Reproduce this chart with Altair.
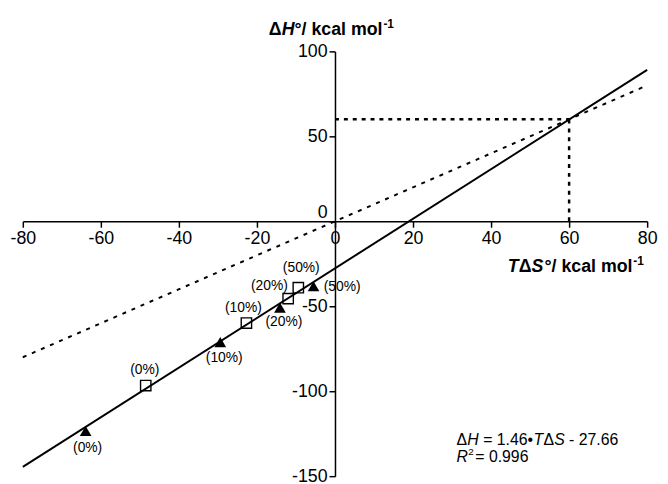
import altair as alt
import pandas as pd

# ---- data ----
sq_tds = [-48.5, -22.7, -12.0, -9.4]
sq_dh = [-96.7, -59.9, -45.5, -39.1]
sq_lab = ["(0%)", "(10%)", "(20%)", "(50%)"]

tri_tds = [-63.9, -29.4, -14.1, -5.5]
tri_dh = [-123.4, -71.1, -50.8, -38.2]
tri_lab = ["(0%)", "(10%)", "(20%)", "(50%)"]

fit_tds = [-80, 80]
fit_dh = [-144.5, 89.1]

iso_tds = [-80, 80]
iso_dh = [-80, 80]

guide_h_tds = [0, 60]
guide_h_dh = [60, 60]
guide_v_tds = [60, 60]
guide_v_dh = [0, 60]

x_ticks = [-80, -60, -40, -20, 0, 20, 40, 60, 80]
y_ticks = [-150, -100, -50, 0, 50, 100]

FONT = "Liberation Sans"
W, H = 632, 430

sq = pd.DataFrame({"x": sq_tds, "y": sq_dh, "label": sq_lab})
tri = pd.DataFrame({"x": tri_tds, "y": tri_dh, "label": tri_lab})
fit = pd.DataFrame({"x": fit_tds, "y": fit_dh})
iso = pd.DataFrame({"x": iso_tds, "y": iso_dh})
gh = pd.DataFrame({"x": guide_h_tds, "y": guide_h_dh})
gv = pd.DataFrame({"x": guide_v_tds, "y": guide_v_dh})

xscale = alt.Scale(domain=[-80, 80], nice=False, zero=False)
yscale = alt.Scale(domain=[-150, 100], nice=False, zero=False)

common_axis = dict(
    title=None, grid=False,
    domainColor="black", domainWidth=1.5, tickColor="black", tickWidth=1.5,
    tickSize=6, labelFont=FONT, labelFontSize=18, labelColor="black",
    labelPadding=2, labelFlush=False, labelOverlap=False,
    labelExpr="datum.value + ''",
)
xaxis = alt.Axis(values=x_ticks, orient="bottom", offset=-258, **common_axis)
yaxis = alt.Axis(
    values=y_ticks, orient="left", offset=-316,
    labelBaseline={"condition": {"test": "datum.value === 0", "value": "bottom"},
                   "value": "middle"},
    **common_axis,
)


def X():
    return alt.X("x:Q", scale=xscale, axis=xaxis)


def Y():
    return alt.Y("y:Q", scale=yscale, axis=yaxis)


layers = []
layers.append(alt.Chart(fit).mark_line(color="black", strokeWidth=2).encode(x=X(), y=Y()))
layers.append(alt.Chart(iso).mark_line(color="black", strokeWidth=2, strokeDash=[4, 6]).encode(x=X(), y=Y()))
layers.append(alt.Chart(gh).mark_line(color="black", strokeWidth=2.5, strokeDash=[4, 5]).encode(x=X(), y=Y()))
layers.append(alt.Chart(gv).mark_line(color="black", strokeWidth=2.5, strokeDash=[4, 5]).encode(x=X(), y=Y()))
layers.append(alt.Chart(sq).mark_point(shape="square", filled=False, color="black", strokeWidth=1.4, size=110, opacity=1).encode(x=X(), y=Y()))
layers.append(alt.Chart(tri).mark_point(shape="triangle-up", filled=True, color="black", size=140, opacity=1).encode(x=X(), y=Y()))

# label offsets (pixels) per point
sq_off = {"(0%)": (-1, -16), "(10%)": (-3, -15), "(20%)": (-19, -13), "(50%)": (3, -20)}
tri_off = {"(0%)": (2, 17), "(10%)": (4, 16), "(20%)": (4, 15), "(50%)": (29, 1)}

for df, offs in ((sq, sq_off), (tri, tri_off)):
    for lab, (dx, dy) in offs.items():
        layers.append(
            alt.Chart(df).transform_filter(alt.datum.label == lab)
            .mark_text(font=FONT, fontSize=14, color="black", dx=dx, dy=dy,
                       align="center", baseline="middle")
            .encode(x=X(), y=Y(), text="label:N")
        )


def piece(txt, px, py, size, weight="normal", style="normal"):
    # px, py are page coordinates; convert to plot coordinates
    return (
        alt.Chart(pd.DataFrame({"t": [txt]}))
        .mark_text(font=FONT, fontSize=size, fontWeight=weight, fontStyle=style,
                   color="black", align="left", baseline="alphabetic")
        .encode(x=alt.value(px - 23), y=alt.value(py - 49), text="t:N")
    )


# y-axis title
layers += [
    piece("\u0394", 272, 32, 18, "bold"),
    piece("H", 285, 32, 18, "bold", "italic"),
    piece("\u00b0/ kcal mol", 298, 32, 18, "bold"),
    piece("-1", 388, 25, 12, "bold"),
]
# x-axis title
layers += [
    piece("T", 514, 272, 18, "bold", "italic"),
    piece("\u0394", 525, 272, 18, "bold"),
    piece("S", 538, 272, 18, "bold", "italic"),
    piece("\u00b0/ kcal mol", 551, 272, 18, "bold"),
    piece("-1", 641, 265, 12, "bold"),
]
# equation
layers += [
    piece("\u0394", 462, 447, 16),
    piece("H", 473, 447, 16, "normal", "italic"),
    piece("= 1.46\u2022", 489, 447, 16),
    piece("T", 540, 447, 16, "normal", "italic"),
    piece("\u0394", 550, 447, 16),
    piece("S", 561, 447, 16, "normal", "italic"),
    piece("- 27.66", 576, 447, 16),
    piece("R", 462, 465, 16, "normal", "italic"),
    piece("2", 474, 458, 10),
    piece("= 0.996", 481, 465, 16),
]

chart = (
    alt.layer(*layers)
    .properties(
        width=W, height=H,
        autosize=alt.AutoSizeParams(type="none"),
        padding={"left": 15, "top": 41, "right": 13, "bottom": 5},
    )
    .configure_view(stroke=None)
)

chart.save("out.html", embed_options={"renderer": "svg", "actions": False})
